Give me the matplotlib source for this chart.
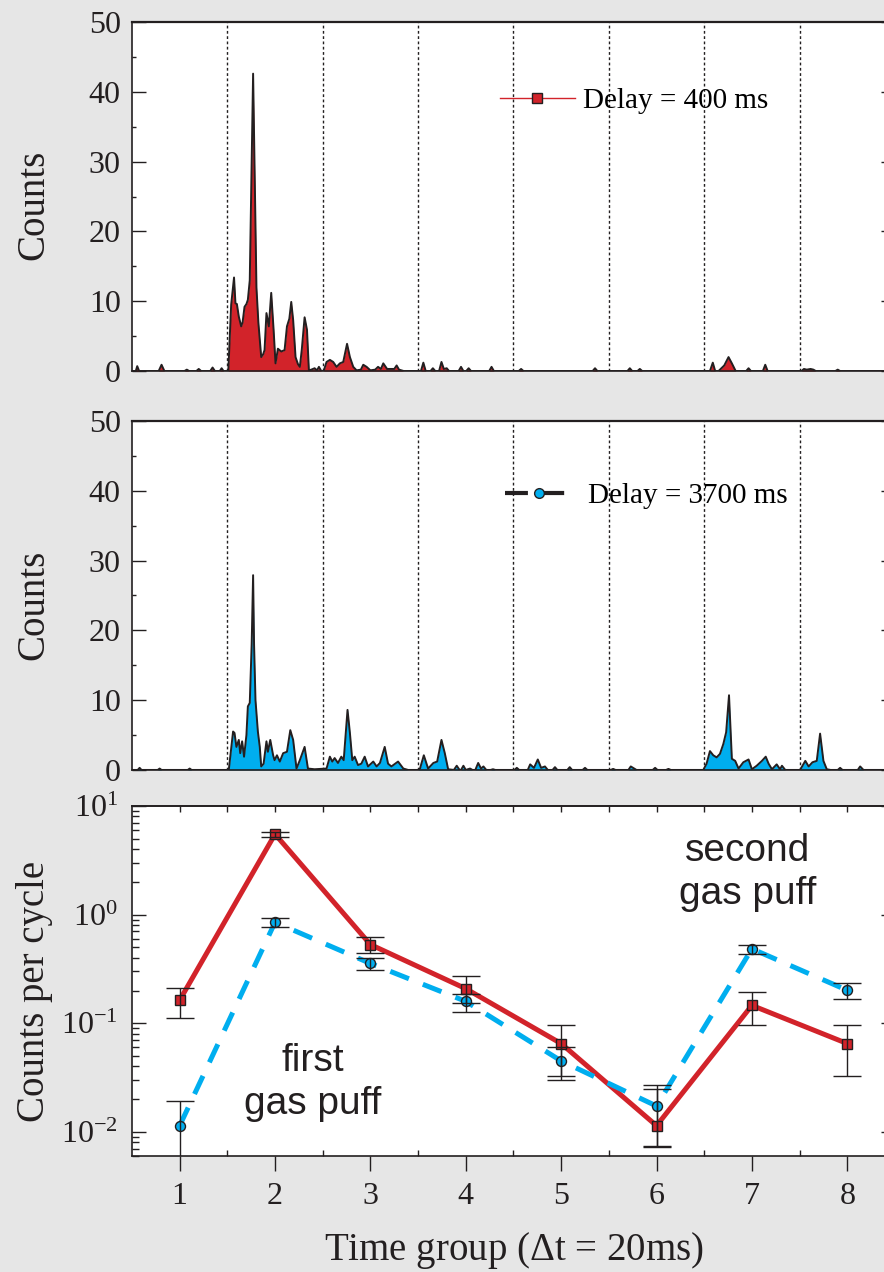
"""Counts vs time for two delays, plus per-group counts per cycle."""

import numpy as np
import matplotlib
matplotlib.use("Agg")
import matplotlib.pyplot as plt
from matplotlib.lines import Line2D

plt.rcParams["font.family"] = ["Liberation Serif", "DejaVu Serif"]
plt.rcParams["mathtext.fontset"] = "custom"
plt.rcParams["mathtext.rm"] = "Liberation Serif"
plt.rcParams["mathtext.it"] = "Liberation Serif:italic"
plt.rcParams["mathtext.bf"] = "Liberation Serif:bold"

# time-resolved counts, time in ms (8 groups of 20 ms)
t_400 = [0, 0.8, 1.1, 1.5, 5.6, 6.2, 6.8, 11.0, 11.5, 12.0,
         13.5, 14.0, 14.5, 16.4, 16.9, 17.4, 18.4, 18.8, 19.2, 20.2,
         20.8, 21.4, 21.7, 22.0, 22.4, 22.9, 23.2, 23.6, 24.0, 24.3,
         24.7, 25.1, 25.4, 25.8, 26.1, 26.5, 26.8, 27.1, 27.5, 27.8,
         28.2, 28.7, 29.2, 29.7, 30.1, 30.6, 31.3, 32.0, 32.5, 33.0,
         33.4, 33.8, 34.3, 34.8, 35.2, 35.6, 36.2, 36.7, 37.1, 37.6,
         38.3, 38.8, 39.2, 39.7, 40.2, 40.8, 41.5, 42.2, 42.9, 43.6,
         44.3, 45.1, 45.7, 46.4, 47.1, 48.0, 48.5, 49.2, 50.0, 51.0,
         51.6, 52.2, 52.7, 53.5, 55.0, 55.5, 56.0, 57.0, 60.6, 61.1,
         61.6, 62.6, 63.1, 63.6, 64.4, 64.9, 65.4, 66.0, 66.5, 68.5,
         69.0, 69.5, 70.1, 70.6, 71.1, 74.9, 75.4, 75.9, 81.1, 81.6,
         82.1, 96.6, 97.1, 97.6, 103.9, 104.4, 104.9, 106.0, 106.5, 107.0,
         121.2, 121.8, 122.3, 123.0, 124.2, 125.1, 125.8, 126.6, 128.8, 129.3,
         129.8, 132.3, 132.8, 133.3, 140.4, 140.9, 141.5, 142.3, 142.9, 143.4,
         147.5, 148.0, 148.5, 160.0]
counts_400 = [0, 0, 0.7, 0, 0, 0.9, 0, 0, 0.2, 0,
              0, 0.3, 0, 0, 0.5, 0, 0, 0.4, 0, 0,
              9.5, 13.4, 9.7, 9.6, 7.8, 6.4, 7.0, 9.2, 9.6, 10.2,
              13.0, 30.0, 42.6, 25.0, 12.0, 7.0, 4.4, 2.0, 2.4, 3.0,
              8.3, 6.4, 11.2, 5.9, 1.1, 3.2, 2.8, 3.0, 6.4, 7.5,
              9.9, 7.3, 2.0, 1.0, 0.6, 3.0, 7.7, 5.9, 0.1, 0.2,
              0.4, 0.1, 0.6, 0, 0, 1.3, 1.6, 1.3, 0.6, 1.1,
              1.3, 3.9, 2.0, 0.6, 0.1, 0.2, 0.9, 0.6, 0.1, 0.2,
              0.6, 0.3, 1.1, 0.3, 0.3, 0.8, 0.2, 0, 0, 1.2,
              0, 0, 0.4, 0, 0, 1.3, 0.3, 0.4, 0, 0,
              0.6, 0, 0, 0.4, 0, 0, 0.6, 0, 0, 0.3,
              0, 0, 0.4, 0, 0, 0.4, 0, 0, 0.3, 0,
              0, 1.2, 0, 0, 0.8, 2.0, 1.1, 0, 0, 0.4,
              0, 0, 0.9, 0, 0, 0.3, 0.2, 0.3, 0.2, 0,
              0, 0.2, 0, 0]

t_3700 = [0, 1.2, 1.6, 2.0, 5.4, 5.8, 6.2, 11.7, 12.1, 12.5,
          20.3, 21.2, 21.5, 21.9, 22.4, 22.7, 23.1, 23.5, 24.0, 24.3,
          24.7, 25.1, 25.4, 25.6, 25.9, 26.4, 26.8, 27.1, 27.6, 28.2,
          28.5, 29.0, 29.6, 29.9, 30.4, 31.0, 31.7, 32.5, 33.2, 33.8,
          34.5, 35.2, 36.2, 36.9, 38.3, 40.8, 41.5, 42.0, 42.5, 43.2,
          43.9, 44.4, 45.2, 45.7, 46.2, 46.7, 47.4, 48.1, 48.8, 49.5,
          50.6, 51.3, 52.0, 53.0, 53.7, 54.4, 55.8, 56.9, 57.9, 60.0,
          60.4, 61.2, 62.1, 63.2, 64.0, 64.9, 65.6, 66.3,
          67.5, 68.1, 68.7, 69.0, 69.5, 70.0, 70.9, 71.4,
          72.0, 72.6, 73.2, 73.7, 74.3, 75.2, 75.7, 76.2,
          80.2, 80.7, 81.2, 83.0, 83.5, 84.3, 85.1, 85.8, 86.6, 87.2,
          88.2, 88.7, 89.2, 91.3, 91.8, 92.3, 94.5, 95.0, 95.5,
          100.4, 100.9, 101.4, 104.1, 104.6, 105.3, 105.8,
          109.2, 109.7, 110.2, 112.0, 112.5, 113.0,
          119.8, 120.5, 121.2, 121.9, 122.6,
          123.3, 124.0, 124.6, 125.2, 125.8, 126.5, 127.2, 128.2, 129.3, 130.0,
          131.0, 132.1, 132.9, 133.5, 134.2, 135.2, 135.9, 136.3, 137.0, 140.1,
          141.2, 141.9, 142.7, 143.6, 144.3, 145.0, 145.7,
          146.5, 148.0, 148.5, 149.0, 152.2, 152.7, 153.4, 160.0]
counts_3700 = [0, 0, 0.3, 0, 0, 0.2, 0, 0, 0.2, 0,
               0, 5.5, 5.3, 3.3, 4.3, 2.4, 4.1, 1.9, 5.0, 9.1,
               9.6, 18.0, 27.9, 18.0, 10.0, 5.5, 3.3, 0.5, 0.9, 4.1,
               2.6, 4.3, 2.1, 1.4, 2.1, 1.2, 2.4, 2.6, 5.7, 4.3,
               0.2, 1.4, 3.3, 0.2, 0.1, 0.2, 1.9, 1.2, 1.7, 1.0,
               1.9, 1.4, 8.6, 5.3, 1.4, 1.9, 0.7, 0.9, 1.9, 0.5,
               1.2, 0.5, 1.0, 3.3, 0.9, 0.5, 1.2, 0.2, 0, 0,
               0.2, 2.1, 0.2, 1.0, 1.2, 4.3, 2.4, 0.1,
               0, 0.6, 0, 0, 0.6, 0, 0.2, 0,
               0, 1.0, 0.2, 0.5, 0, 0, 0.1, 0,
               0, 0.3, 0, 0, 0.8, 0.3, 1.5, 0.3, 0.5, 0,
               0, 0.4, 0, 0, 0.4, 0, 0, 0.3, 0,
               0, 0.15, 0, 0, 0.5, 0.2, 0,
               0, 0.3, 0, 0, 0.15, 0,
               0, 0.9, 2.7, 2.1, 1.8,
               2.3, 3.7, 5.4, 10.7, 1.6, 1.3, 0.2, 1.1, 1.5, 0.1,
               0.6, 1.3, 1.9, 0.9, 0.1, 0.8, 0.1, 0.6, 0, 0,
               1.3, 0.5, 1.1, 1.3, 5.2, 1.3, 0.1,
               0, 0, 0.3, 0, 0, 0.5, 0, 0]

group_edges_ms = [20, 40, 60, 80, 100, 120, 140]

# counts per cycle in each time group, with error-bar ends
groups = [1, 2, 3, 4, 5, 6, 7, 8]
rate_400 = [0.163, 5.5, 0.53, 0.208, 0.065, 0.0114, 0.146, 0.065]
rate_400_lo = [0.111, 5.2, 0.44, 0.152, 0.033, 0.0072, 0.097, 0.0327]
rate_400_hi = [0.21, 5.8, 0.62, 0.27, 0.097, 0.0249, 0.194, 0.097]
rate_3700 = [0.0114, 0.85, 0.355, 0.159, 0.045, 0.0173, 0.484, 0.201]
rate_3700_lo = [1e-4, 0.776, 0.306, 0.126, 0.030, 0.0074, 0.43, 0.166]
rate_3700_hi = [0.0194, 0.925, 0.397, 0.184, 0.060, 0.027, 0.53, 0.234]

red = "#d2232a"
blue = "#00aeef"
dark = "#231f20"
bg = "#e6e6e6"

fig = plt.figure(figsize=(8.84, 12.72), dpi=100, facecolor=bg)
ax1 = fig.add_axes([0.1493, 0.7083, 0.8631, 0.2744])
ax2 = fig.add_axes([0.1493, 0.3947, 0.8631, 0.2744])
ax3 = fig.add_axes([0.1493, 0.0912, 0.8631, 0.2752])

for ax, t, c, fc in [(ax1, t_400, counts_400, red), (ax2, t_3700, counts_3700, blue)]:
    ax.fill_between(t, c, color=fc, lw=0, zorder=2)
    ax.plot(t, c, color=dark, lw=1.4, zorder=3)
    for e in group_edges_ms:
        ax.axvline(e, color=dark, lw=1.0, ls=(0, (2, 1.8)), zorder=1)
    ax.set_xlim(0, 160)
    ax.set_ylim(0, 50)
    ax.set_xticks([])
    ax.set_yticks(np.arange(0, 51, 10))
    ax.set_yticks(np.arange(5, 50, 10), minor=True)
    ax.tick_params(axis="y", which="major", direction="in", length=10, width=1,
                   right=True, labelsize=23, pad=8, colors=dark)
    ax.tick_params(axis="y", which="minor", direction="in", length=3, width=1,
                   right=True, colors=dark)
    for s in ax.spines.values():
        s.set_color(dark)
        s.set_linewidth(1.2)
    ax.spines["top"].set_linewidth(1.6)
    ax.set_ylabel("Counts", fontsize=28, color=dark)

ax1.yaxis.set_label_coords(-0.104, 0.476)
ax2.yaxis.set_label_coords(-0.104, 0.473)

h1 = Line2D([], [], color=red, lw=1.0, marker="s", ms=7, mfc=red, mec=dark, mew=1)
ax1.legend([h1], ["Delay = 400 ms"], loc="center left", bbox_to_anchor=(0.4823, 0.7736),
           frameon=False, fontsize=21, handlelength=2.57, handletextpad=0.27,
           borderpad=0, borderaxespad=0)
h2 = Line2D([], [], color=dark, lw=3, ls=(0, (5.5, 3.2)), marker="o", ms=7,
            mfc=blue, mec=dark, mew=1)
ax2.legend([h2], ["Delay = 3700 ms"], loc="center left", bbox_to_anchor=(0.4889, 0.785),
           frameon=False, fontsize=21, handlelength=2.3, handletextpad=0.55,
           borderpad=0, borderaxespad=0)

# bottom panel: counts per cycle
r4 = np.array(rate_400)
r37 = np.array(rate_3700)
ax3.plot(groups, rate_400, color=red, lw=3.6, zorder=2)
ax3.plot(groups, rate_3700, color=blue, lw=3.6, ls=(0, (4, 3)), zorder=2)
ax3.plot(groups, rate_400, ls="none", marker="s", ms=7, mfc=red, mec=dark, mew=1, zorder=3)
ax3.plot(groups, rate_3700, ls="none", marker="o", ms=7.2, mfc=blue, mec=dark, mew=1, zorder=3)
ax3.errorbar(groups, rate_400, yerr=[r4 - np.array(rate_400_lo), np.array(rate_400_hi) - r4],
             fmt="none", ecolor=dark, elinewidth=1, capsize=10, capthick=1, zorder=4)
ax3.errorbar(groups, rate_3700, yerr=[r37 - np.array(rate_3700_lo), np.array(rate_3700_hi) - r37],
             fmt="none", ecolor=dark, elinewidth=1, capsize=10, capthick=1, zorder=4)

ax3.set_yscale("log")
ax3.set_ylim(6e-3, 10)
ax3.set_xlim(0.5, 8.5)
ax3.set_xticks(groups)
ax3.set_xticks(np.arange(1.5, 8.5, 1), minor=True)
ax3.tick_params(axis="x", which="major", direction="out", length=11, width=1,
                labelsize=23, pad=8, colors=dark)
ax3.tick_params(axis="x", which="minor", direction="in", length=4, width=1, colors=dark)
ax3.tick_params(axis="y", which="major", direction="in", length=10, width=1,
                right=True, labelsize=23, pad=10, colors=dark)
ax3.tick_params(axis="y", which="minor", direction="in", length=5, width=1,
                right=True, colors=dark)
secax = ax3.secondary_xaxis("top")
secax.set_xticks(np.arange(1, 8.6, 0.5))
secax.tick_params(direction="in", length=4, width=1, labeltop=False, colors=dark)
for s in list(ax3.spines.values()) + list(secax.spines.values()):
    s.set_color(dark)
    s.set_linewidth(1.2)

ax3.set_ylabel("Counts per cycle", fontsize=28, color=dark)
ax3.yaxis.set_label_coords(-0.104, 0.469)
ax3.set_xlabel(r"Time group ($\Delta$t = 20ms)", fontsize=28, color=dark)
ax3.xaxis.set_label_coords(0.5, -0.212)

ax3.text(0.237, 0.211, "first\ngas puff", transform=ax3.transAxes, ha="center", va="center",
         fontsize=28, family="Liberation Sans", color=dark, linespacing=1.25)
ax3.text(0.807, 0.809, "second\ngas puff", transform=ax3.transAxes, ha="center", va="center",
         fontsize=28, family="Liberation Sans", color=dark, linespacing=1.25)

fig.savefig("out.png", dpi=100, facecolor=bg)
